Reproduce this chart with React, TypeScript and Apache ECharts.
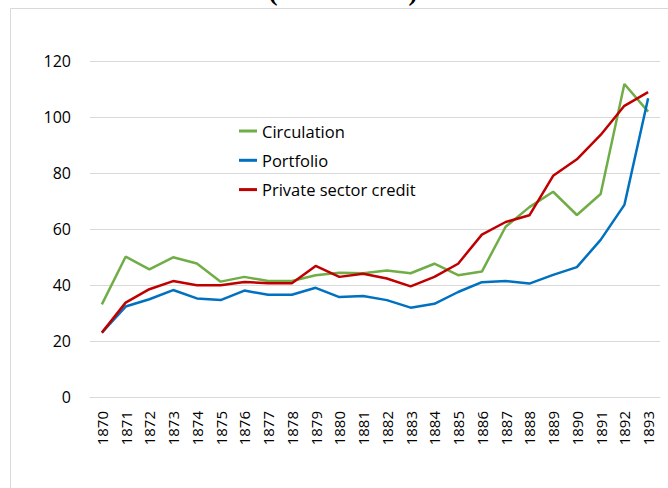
import React, { useEffect, useRef } from "react";
import * as echarts from "echarts";

const years = [
  "1870", "1871", "1872", "1873", "1874", "1875", "1876", "1877", "1878", "1879", "1880", "1881",
  "1882", "1883", "1884", "1885", "1886", "1887", "1888", "1889", "1890", "1891", "1892", "1893",
];

const circulation = [
  33.1, 50.1, 45.6, 49.9, 47.7, 41.2, 42.9, 41.4, 41.4, 43.5, 44.4, 44.2,
  45.2, 44.2, 47.6, 43.5, 44.8, 60.8, 67.8, 73.3, 65.0, 72.5, 111.8, 101.9,
];

const portfolio = [
  23.0, 32.3, 34.9, 38.2, 35.2, 34.6, 38.0, 36.5, 36.5, 39.0, 35.7, 36.1,
  34.6, 31.9, 33.3, 37.5, 41.0, 41.4, 40.5, 43.6, 46.4, 56.1, 68.6, 106.7,
];

const privateCredit = [
  23.0, 33.7, 38.5, 41.4, 39.9, 39.9, 41.1, 40.6, 40.6, 46.8, 42.9, 44.0,
  42.3, 39.5, 42.9, 47.6, 58.0, 62.5, 64.9, 79.0, 84.9, 93.6, 104.0, 108.9,
];

const seriesNames = ["Circulation", "Portfolio", "Private sector credit"];
const seriesColors = ["#70ad47", "#0070c0", "#c00000"];
const titleText = "(million lire)";

const FONT = "'Open Sans', 'Noto Sans', sans-serif";

export default function App() {
  const ref = useRef<HTMLDivElement>(null);

  useEffect(() => {
    if (!ref.current) return;
    const chart = echarts.init(ref.current, undefined, { renderer: "svg" });
    const data = [circulation, portfolio, privateCredit];
    chart.setOption({
      animation: false,
      backgroundColor: "#ffffff",
      grid: { left: 90, right: 8, top: 61, bottom: 91, containLabel: false },
      legend: {
        orient: "vertical",
        left: 234,
        top: 116,
        icon: "rect",
        itemWidth: 18,
        itemHeight: 3,
        itemGap: 9.3,
        data: seriesNames,
        textStyle: { fontFamily: FONT, fontSize: 16.5, color: "#000000", lineHeight: 20 },
      },
      xAxis: {
        type: "category",
        data: years,
        boundaryGap: true,
        axisLine: { show: true, lineStyle: { color: "#d9d9d9", width: 1 } },
        axisTick: { show: false },
        axisLabel: {
          interval: 0,
          rotate: 90,
          margin: 14,
          fontFamily: FONT,
          fontSize: 15,
          color: "#000000",
        },
      },
      yAxis: {
        type: "value",
        min: 0,
        max: 120,
        interval: 20,
        axisLine: { show: false },
        axisTick: { show: false },
        splitLine: { lineStyle: { color: "#d9d9d9", width: 1 } },
        axisLabel: { margin: 19, fontFamily: FONT, fontSize: 16, color: "#000000" },
      },
      graphic: [
        {
          type: "rect",
          z: -10,
          silent: true,
          shape: { x: 10.5, y: 8.5, width: 700, height: 520 },
          style: { fill: "none", stroke: "#d9d9d9", lineWidth: 1 },
        },
        {
          type: "text",
          x: 343,
          y: 4.5,
          silent: true,
          style: {
            text: titleText,
            fontFamily: "'Liberation Serif', 'DejaVu Serif', serif",
            fontWeight: "bold",
            fontSize: 28,
            fill: "#000000",
            align: "center",
            verticalAlign: "bottom",
          },
        },
      ],
      series: seriesNames.map((name, i) => ({
        name,
        type: "line",
        data: data[i],
        showSymbol: false,
        symbol: "none",
        lineStyle: { color: seriesColors[i], width: 2.5 },
        itemStyle: { color: seriesColors[i] },
      })),
    });
    return () => chart.dispose();
  }, []);

  return (
    <div
      ref={ref}
      style={{ position: "fixed", left: 0, top: 0, width: 668, height: 488 }}
    />
  );
}
